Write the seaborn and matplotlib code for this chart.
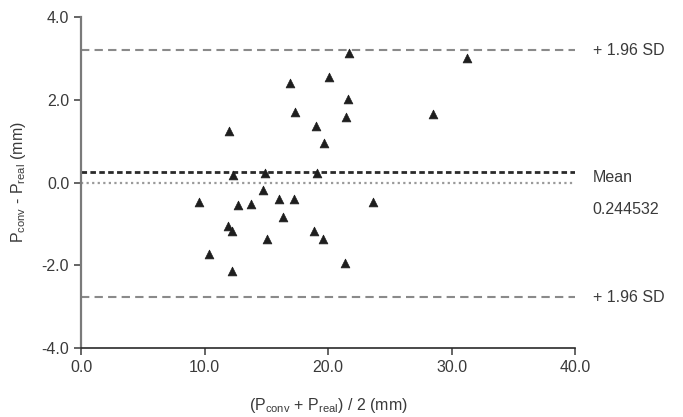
import matplotlib
matplotlib.use("Agg")
import matplotlib.pyplot as plt
import matplotlib.transforms as mtransforms
import seaborn as sns
import pandas as pd

# Data
avg_mm = [9.56, 10.37, 11.99, 11.91, 12.23, 12.23, 12.34, 12.72, 13.77, 14.75,
          14.90, 15.06, 16.03, 16.36, 16.92, 17.24, 17.32, 19.02, 19.10, 18.86,
          19.67, 19.59, 20.07, 21.45, 21.61, 21.37, 21.70, 23.63, 28.48, 31.23]
diff_mm = [-0.48, -1.73, 1.24, -1.04, -1.18, -2.14, 0.18, -0.55, -0.51, -0.19,
           0.22, -1.35, -0.39, -0.84, 2.39, -0.39, 1.71, 1.37, 0.24, -1.16,
           0.96, -1.35, 2.55, 1.57, 2.02, -1.95, 3.13, -0.48, 1.66, 3.01]
mean_diff = 0.244532
upper_loa = 3.19
lower_loa = -2.76
x_ticks = [0, 10, 20, 30, 40]
y_ticks = [-4, -2, 0, 2, 4]

df = pd.DataFrame({"avg": avg_mm, "diff": diff_mm})

sns.set_theme(style="ticks")
plt.rcParams["font.family"] = ["Liberation Sans", "DejaVu Sans"]
plt.rcParams["mathtext.fontset"] = "custom"
plt.rcParams["mathtext.rm"] = "Liberation Sans"
plt.rcParams["mathtext.it"] = "Liberation Sans"

txt_color = "#3a3a3a"
fig = plt.figure(figsize=(6.83, 4.17), dpi=100)
ax = fig.add_axes([0.1186, 0.1643, 0.8422 - 0.1186, 0.9604 - 0.1643])

ax.axhline(upper_loa, color="#8a8a8a", lw=1.5, ls=(0, (4, 2.5)), zorder=1)
ax.axhline(lower_loa, color="#8a8a8a", lw=1.5, ls=(0, (4, 2.5)), zorder=1)
ax.axhline(mean_diff, color="#2a2a2a", lw=2.0, ls=(0, (2, 1.2)), zorder=1)
ax.axhline(0, color="#9a9a9a", lw=1.6, ls=(0, (1, 1.5)), zorder=1)

sns.scatterplot(data=df, x="avg", y="diff", marker="^", s=40, color="#1e1e1e",
                edgecolor="#1e1e1e", linewidth=0.5, ax=ax, zorder=3, legend=False)

ax.set_xlim(0, 40)
ax.set_ylim(-4, 4)
ax.set_xticks(x_ticks)
ax.set_xticklabels([f"{v:.1f}" for v in x_ticks])
ax.set_yticks(y_ticks)
ax.set_yticklabels([f"{v:.1f}" for v in y_ticks])
sns.despine(ax=ax)
ax.spines["left"].set_color("#7a7a7a")
ax.spines["left"].set_linewidth(1.6)
ax.spines["bottom"].set_color("#2a2a2a")
ax.spines["bottom"].set_linewidth(1.2)
ax.tick_params(axis="both", labelsize=11.5, colors=txt_color, length=5, width=1.1)

ax.set_xlabel(r"($\mathregular{P_{conv}}$ + $\mathregular{P_{real}}$) / 2 (mm)",
              fontsize=11.5, color=txt_color, labelpad=15)
ax.set_ylabel(r"$\mathregular{P_{conv}}$ - $\mathregular{P_{real}}$ (mm)",
              fontsize=11.5, color=txt_color, labelpad=10)

trans = mtransforms.blended_transform_factory(ax.transAxes, ax.transData)
kw = dict(transform=trans, fontsize=11.5, color=txt_color, va="center", ha="left",
          clip_on=False)
ax.text(1.035, upper_loa, "+ 1.96 SD", **kw)
ax.text(1.035, lower_loa, "+ 1.96 SD", **kw)
off = mtransforms.offset_copy(trans, fig=fig, x=0, y=-4, units="points")
off2 = mtransforms.offset_copy(trans, fig=fig, x=0, y=-27, units="points")
kw2 = {k: v for k, v in kw.items() if k != "transform"}
ax.text(1.035, mean_diff, "Mean", transform=off, **kw2)
ax.text(1.035, mean_diff, f"{mean_diff}", transform=off2, **kw2)

fig.savefig("out.png", dpi=100)
